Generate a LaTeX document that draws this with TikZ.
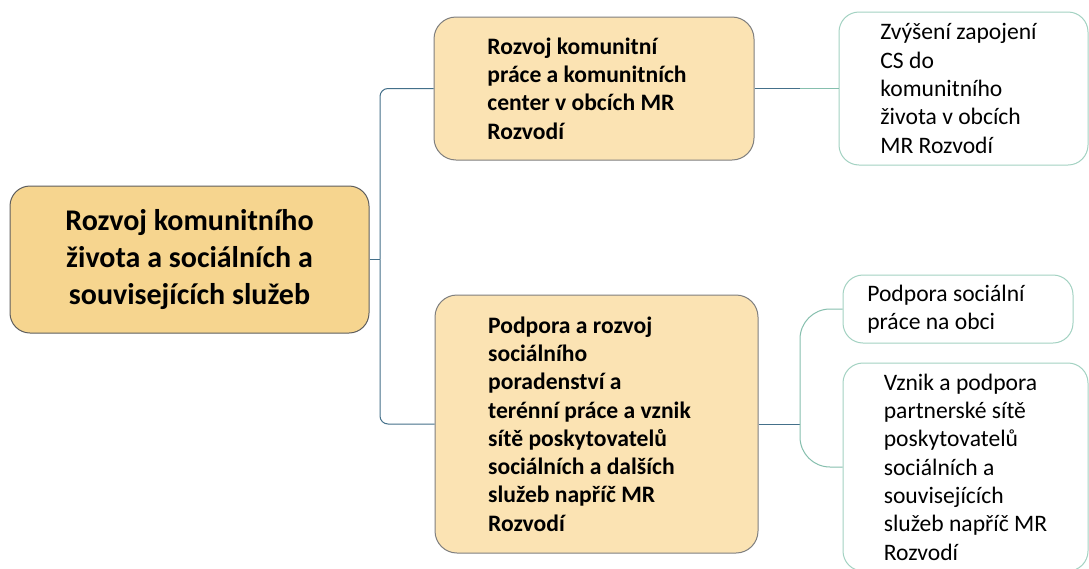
\documentclass[tikz,border=0pt]{standalone}
\usepackage{fontspec}
\setmainfont{Carlito}
\definecolor{rootfill}{HTML}{F6D58F}
\definecolor{midfill}{HTML}{FBE3B3}
\definecolor{rootdraw}{HTML}{5E5E5E}
\definecolor{middraw}{HTML}{7F7F7F}
\definecolor{leafdraw}{HTML}{A3D2C2}
\definecolor{trunkcol}{HTML}{44708A}
\definecolor{leafcol}{HTML}{86BFAE}
\tikzset{
  rootbox/.style={draw=rootdraw, fill=rootfill, line width=1pt, rounded corners=20pt,
    align=center, font=\bfseries\fontsize{30}{37}\selectfont, inner sep=0pt},
  midbox/.style={draw=middraw, fill=midfill, line width=1pt, rounded corners=22pt,
    align=left, font=\bfseries\fontsize{23.6}{28.3}\selectfont, inner sep=0pt},
  leafbox/.style={draw=leafdraw, fill=white, line width=1pt, rounded corners=20pt,
    align=left, font=\fontsize{23.6}{28.3}\selectfont, inner sep=0pt},
  trunk/.style={draw=trunkcol, line width=1pt},
  leafline/.style={draw=leafcol, line width=1pt},
}
\begin{document}
\begin{tikzpicture}[x=1pt,y=-1pt]
\useasboundingbox (0,0) rectangle (1089,568);
\clip (0,0) rectangle (1089,568);
\fill[white] (0,0) rectangle (1089,568);

\node[rootbox, minimum width=359pt, minimum height=147pt] (root) at (189.5,259.5)
  {Rozvoj komunitního\\života a sociálních a\\souvisejících služeb};

\node[midbox, minimum width=320pt, minimum height=143pt] (A) at (594,88.5)
  {Rozvoj komunitní\\práce a komunitních\rule{14pt}{0pt}\\center v obcích MR\\Rozvodí};

\node[midbox, minimum width=323pt, minimum height=258pt] (B) at (596.5,424)
  {Podpora a rozvoj\\sociálního\\poradenství a\\terénní práce a vznik\rule{14pt}{0pt}\\sítě poskytovatelů\\sociálních a dalších\\služeb napříč MR\\Rozvodí};

\node[leafbox, minimum width=249pt, minimum height=153pt] (C) at (963.5,88.5)
  {Zvýšení zapojení\rule{10pt}{0pt}\\CS do\\komunitního\\života v obcích\\MR Rozvodí};

\node[leafbox, minimum width=230pt, minimum height=68pt] (D) at (958,309)
  {Podpora sociální\rule{24pt}{0pt}\\práce na obci};

\node[leafbox, minimum width=245pt, minimum height=208pt] (E) at (965.5,467)
  {Vznik a podpora\\partnerské sítě\\poskytovatelů\\sociálních a\\souvisejících\\služeb napříč MR\\Rozvodí};

\coordinate (J) at (380,259.5);
\coordinate (K) at (800,424);
\coordinate (L) at (800,88.5);

\draw[trunk] (root.east) -- (J);
\draw[trunk, rounded corners=8pt] (J) |- (A.west);
\draw[trunk, rounded corners=8pt] (J) |- (B.west);

\draw[trunk] (A.east) -- (L);
\draw[leafline] (L) -- (C.west);

\draw[trunk] (B.east) -- (K);
\draw[leafline, rounded corners=30pt] (K) |- (D.west);
\draw[leafline, rounded corners=30pt] (K) |- (E.west);
\end{tikzpicture}
\end{document}
